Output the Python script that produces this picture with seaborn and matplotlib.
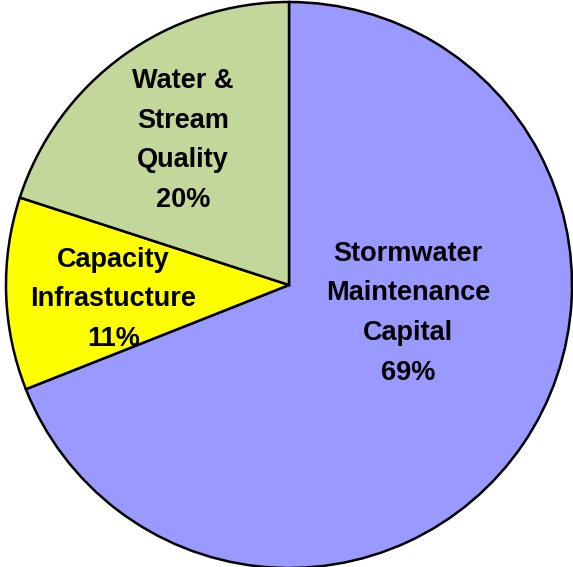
import matplotlib
matplotlib.use("Agg")
import matplotlib.pyplot as plt
import seaborn as sns

labels = ["Stormwater\nMaintenance\nCapital", "Capacity\nInfrastucture", "Water &\nStream\nQuality"]
shares = [69, 11, 20]
colors = ["#9999FF", "#FFFF00", "#C4D79B"]

# label centres in data coordinates (radius = 1)
label_pos = [(0.42, -0.10), (-0.62, -0.05), (-0.375, 0.51)]

sns.set_theme(style="white")
plt.rcParams['font.family'] = ['Liberation Sans', 'DejaVu Sans']

fig = plt.figure(figsize=(5.73, 5.67), dpi=100)
ax = fig.add_axes([0.0, 0.0, 1.0, 1.0])

wedges, _ = ax.pie(shares, colors=colors, startangle=90, counterclock=False,
                   radius=1.0, wedgeprops={'edgecolor': 'black', 'linewidth': 1.8})

for lab, val, (x, y) in zip(labels, shares, label_pos):
    ax.text(x, y, f"{lab}\n{val}%", ha='center', va='center', fontsize=19.5,
            fontweight='bold', linespacing=1.68, color='black')

# centre (289, 285), radius 283 px in the picture
ax.set_xlim(-289 / 283, (573 - 289) / 283)
ax.set_ylim(-(567 - 285) / 283, 285 / 283)
ax.set_aspect('equal')
ax.axis('off')

fig.savefig("out.png", dpi=100)
